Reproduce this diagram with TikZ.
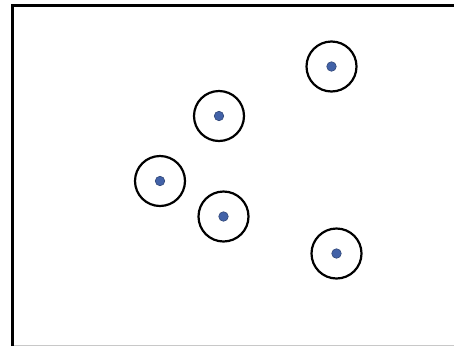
\documentclass[tikz,border=0pt]{standalone}
\definecolor{dotblue}{RGB}{66,98,168}
\definecolor{framegray}{RGB}{200,200,200}
\begin{document}
\begin{tikzpicture}[x=1pt,y=-1pt,
  ring/.style={circle,draw=black,line width=2.2pt,minimum size=50pt,inner sep=0pt,fill=white},
  center/.style={circle,fill=dotblue,draw=dotblue!70!black,line width=0.6pt,minimum size=9.5pt,inner sep=0pt}]
\useasboundingbox (0,0) rectangle (454,346);
\fill[white] (0,0) rectangle (454,346);
\draw[framegray,line width=1pt] (12.5,345.3) -- (454,345.3);
\draw[black,line width=2.4pt] (12.5,346) -- (12.5,5.5) -- (454,5.5);
\foreach \n/\x/\y in {a/331.5/66.5, b/219/116, c/160/181, d/223.5/216.5, e/336.5/253.5}{
  \node[ring] (\n) at (\x,\y) {};
  \node[center] (\n c) at (\n) {};
}
\end{tikzpicture}
\end{document}
